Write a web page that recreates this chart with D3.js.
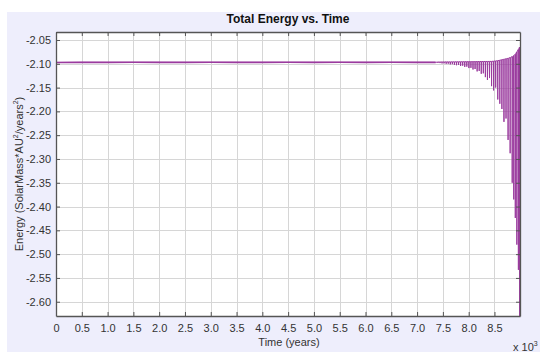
<!DOCTYPE html>
<html><head><meta charset="utf-8">
<script src="https://cdn.jsdelivr.net/npm/d3@7"></script>
<style>body{margin:0;background:#fff}svg{display:block;font-family:Arial,"Liberation Sans",sans-serif}</style>
</head><body>
<svg id="c" width="550" height="360"></svg>
<script>
// ---- data (time in 10^3 years, energy in SolarMass*AU^2/years^2) ----
const flatTimes = [0, 0.5, 1.0, 1.5, 2.0, 2.5, 3.0, 3.5, 4.0, 4.5, 5.0, 5.5, 6.0, 6.5, 7.0, 7.36];
const flatEnergy = [-2.0972, -2.0970, -2.0971, -2.0969, -2.0970, -2.0971, -2.0969, -2.0970, -2.0970, -2.0969, -2.0970, -2.0969, -2.0970, -2.0969, -2.0970, -2.0970];
const spikeTimes = [7.40, 7.44, 7.48, 7.52, 7.56, 7.60, 7.64, 7.68, 7.72, 7.76, 7.80, 7.84, 7.88, 7.92, 7.96, 8.00, 8.04, 8.08, 8.12, 8.16, 8.20, 8.24, 8.28, 8.32, 8.36, 8.40, 8.44, 8.48, 8.52, 8.56, 8.60, 8.64, 8.68, 8.72, 8.76, 8.80, 8.84, 8.87, 8.90, 8.93, 8.96, 8.985];
const spikeLow = [-2.0982, -2.0985, -2.0992, -2.0990, -2.1000, -2.0998, -2.1012, -2.1008, -2.1022, -2.1030, -2.1025, -2.1046, -2.1040, -2.1065, -2.1060, -2.1090, -2.1085, -2.1120, -2.1110, -2.1160, -2.1150, -2.1210, -2.1200, -2.1280, -2.1340, -2.1300, -2.1470, -2.1560, -2.1500, -2.1750, -2.1840, -2.1950, -2.2220, -2.2150, -2.2600, -2.2880, -2.3500, -2.3850, -2.4240, -2.4800, -2.5330, -2.6300];
const spikeHigh = [-2.0962, -2.0962, -2.0961, -2.0961, -2.0960, -2.0960, -2.0960, -2.0959, -2.0959, -2.0958, -2.0958, -2.0957, -2.0957, -2.0956, -2.0956, -2.0955, -2.0955, -2.0954, -2.0954, -2.0953, -2.0953, -2.0952, -2.0952, -2.0951, -2.0951, -2.0950, -2.0950, -2.0945, -2.0940, -2.0935, -2.0925, -2.0915, -2.0905, -2.0895, -2.0885, -2.0870, -2.0850, -2.0830, -2.0800, -2.0750, -2.0700, -2.0650];
const xTickValues = [0, 0.5, 1.0, 1.5, 2.0, 2.5, 3.0, 3.5, 4.0, 4.5, 5.0, 5.5, 6.0, 6.5, 7.0, 7.5, 8.0, 8.5];
const xTickLabels = ["0", "0.5", "1.0", "1.5", "2.0", "2.5", "3.0", "3.5", "4.0", "4.5", "5.0", "5.5", "6.0", "6.5", "7.0", "7.5", "8.0", "8.5"];
const yTickValues = [-2.05, -2.10, -2.15, -2.20, -2.25, -2.30, -2.35, -2.40, -2.45, -2.50, -2.55, -2.60];
const yTickLabels = ["-2.05", "-2.10", "-2.15", "-2.20", "-2.25", "-2.30", "-2.35", "-2.40", "-2.45", "-2.50", "-2.55", "-2.60"];
const xDomain = [0, 8.995];
const yDomain = [-2.630, -2.0332];

// ---- layout ----
const svg = d3.select("#c");
const L = 56, R = 520, T = 32, B = 316;
svg.append("rect").attr("x", 7).attr("y", 12).attr("width", 533).attr("height", 340).attr("fill", "#eeeefc");
svg.append("rect").attr("x", L).attr("y", T).attr("width", R - L).attr("height", B - T).attr("fill", "#ffffff");

const x = d3.scaleLinear().domain(xDomain).range([L, R]);
const y = d3.scaleLinear().domain(yDomain).range([B, T]);

// grid
const grid = svg.append("g");
grid.selectAll("line.v").data(xTickValues.slice(1)).join("line")
  .attr("x1", d => Math.round(x(d)) + 0.5).attr("x2", d => Math.round(x(d)) + 0.5)
  .attr("y1", T).attr("y2", B).attr("stroke", "#d6d6d6").attr("stroke-width", 1);
grid.selectAll("line.h").data(yTickValues).join("line")
  .attr("y1", d => Math.round(y(d)) + 0.5).attr("y2", d => Math.round(y(d)) + 0.5)
  .attr("x1", L).attr("x2", R).attr("stroke", "#d6d6d6").attr("stroke-width", 1);

// data line
const pts = flatTimes.map((t, i) => [t, flatEnergy[i]]);
spikeTimes.forEach((t, i) => { pts.push([t, spikeHigh[i]]); pts.push([t + 0.004, spikeLow[i]]); pts.push([t + 0.008, spikeHigh[i]]); });
svg.append("clipPath").attr("id", "pc").append("rect").attr("x", L).attr("y", T).attr("width", R - L).attr("height", B - T);
svg.append("path").attr("clip-path", "url(#pc)")
  .datum(pts)
  .attr("d", d3.line().x(d => x(d[0])).y(d => y(d[1])))
  .attr("fill", "none").attr("stroke", "#9a3a9e").attr("stroke-width", 1).attr("stroke-linejoin", "miter");
svg.append("path").attr("clip-path", "url(#pc)")
  .datum(flatTimes.map((t, i) => [t, flatEnergy[i]]))
  .attr("d", d3.line().x(d => x(d[0])).y(d => y(d[1])))
  .attr("fill", "none").attr("stroke", "#9a3a9e").attr("stroke-width", 1.6);

// axes (ticks inside on all sides)
const axCol = "#555";
const fmtX = d => xTickLabels[xTickValues.indexOf(d)];
const fmtY = d => yTickLabels[yTickValues.indexOf(d)];
const gB = svg.append("g").attr("transform", `translate(0,${B})`)
  .call(d3.axisBottom(x).tickValues(xTickValues).tickFormat(fmtX).tickSizeInner(-4).tickSizeOuter(0).tickPadding(8));
const gT = svg.append("g").attr("transform", `translate(0,${T})`)
  .call(d3.axisTop(x).tickValues(xTickValues).tickFormat("").tickSizeInner(-4).tickSizeOuter(0));
const gL = svg.append("g").attr("transform", `translate(${L},0)`)
  .call(d3.axisLeft(y).tickValues(yTickValues).tickFormat(fmtY).tickSizeInner(-4).tickSizeOuter(0).tickPadding(5));
const gR = svg.append("g").attr("transform", `translate(${R},0)`)
  .call(d3.axisRight(y).tickValues(yTickValues).tickFormat("").tickSizeInner(-4).tickSizeOuter(0));
[gB, gT, gL, gR].forEach(g => {
  g.select(".domain").attr("stroke", axCol).attr("stroke-width", 1.3);
  g.selectAll(".tick line").attr("stroke", axCol);
  g.selectAll(".tick text").attr("fill", "#333").attr("font-size", 11).attr("font-family", "Arial, 'Liberation Sans', sans-serif");
});
gB.selectAll(".tick text").attr("dy", "0.71em");

// titles
svg.append("text").attr("x", (L + R) / 2).attr("y", 23).attr("text-anchor", "middle")
  .attr("font-size", 12).attr("font-weight", "bold").attr("fill", "#111").text("Total Energy vs. Time");
svg.append("text").attr("x", 289).attr("y", 346).attr("text-anchor", "middle")
  .attr("font-size", 11).attr("fill", "#333").text("Time (years)");
const xm = svg.append("text").attr("x", 513).attr("y", 351).attr("font-size", 11).attr("fill", "#333");
xm.append("tspan").text("x 10");
xm.append("tspan").attr("font-size", 7).attr("dy", -5).text("3");

const yl = svg.append("text").attr("transform", `translate(23,${(T + B) / 2}) rotate(-90)`)
  .attr("text-anchor", "middle").attr("font-size", 11).attr("fill", "#333");
yl.append("tspan").text("Energy (SolarMass*AU");
yl.append("tspan").attr("font-size", 7).attr("dy", -5).text("2");
yl.append("tspan").attr("dy", 5).text("/years");
yl.append("tspan").attr("font-size", 7).attr("dy", -5).text("2");
yl.append("tspan").attr("dy", 5).text(")");
</script>
</body></html>
